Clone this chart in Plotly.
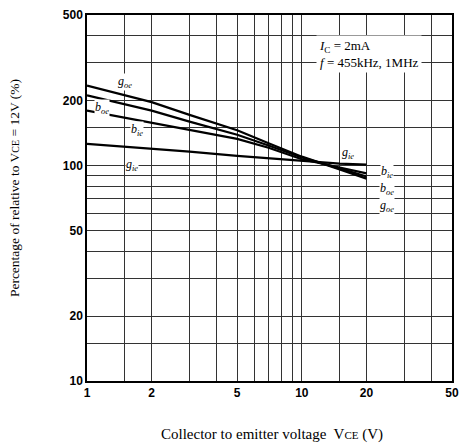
import math
import plotly.graph_objects as go

# Data
vce = [1, 2, 3, 5, 7, 10, 15, 20]
goe = [235, 197, 172, 146, 127, 110, 96, 87]
boe = [212, 180, 160, 139, 124, 109, 97, 89]
bie = [180, 158, 146, 133, 121, 107, 98, 92]
gie = [126, 120, 116, 111, 108, 105, 102, 101]

x_grid = [1, 1.5, 2, 3, 4, 5, 6, 7, 8, 9, 10, 15, 20, 30, 40, 50]
x_text = ['1', '', '2', '', '', '5', '', '', '', '', '10', '', '20', '', '', '50']
y_grid = [10, 15, 20, 30, 40, 50, 60, 70, 80, 90, 100, 150, 200, 300, 400, 500]
y_text = ['10', '', '20', '', '', '50', '', '', '', '', '100', '', '200', '', '', '500']

series = [("goe", goe), ("boe", boe), ("bie", bie), ("gie", gie)]

fig = go.Figure()
for name, vals in series:
    fig.add_trace(go.Scatter(x=vce, y=vals, mode="lines", name=name,
                             line=dict(color="black", width=2.2), showlegend=False))

serif = "Liberation Serif"
lab_font = dict(family=serif, size=12, color="black")

def lab(sym, sub):
    return f"<i>{sym}<sub>{sub}</sub></i>"

L = math.log10
# curve labels (left and right)
left_labels = [("g", "oe", 1.5, 245), ("b", "oe", 1.17, 186), ("b", "ie", 1.7, 146), ("g", "ie", 1.62, 101)]
right_labels = [("g", "ie", 16.4, 114), ("b", "ie", 25, 93), ("b", "oe", 25, 78), ("g", "oe", 25, 65)]
ann = []
for s, sub, xv, yv in left_labels + right_labels:
    ann.append(dict(x=L(xv), y=L(yv), xref="x", yref="y", text=lab(s, sub), showarrow=False,
                    font=lab_font, bgcolor="white", borderpad=0))

ann.append(dict(x=L(11.6), y=L(330), xref="x", yref="y", xanchor="left", yanchor="middle",
                text="<i>I</i><sub>C</sub> = 2mA<br><i>f</i> = 455kHz, 1MHz",
                showarrow=False, align="left", bgcolor="white", borderpad=2,
                font=dict(family=serif, size=13, color="black")))

ann.append(dict(x=-0.2, y=0.527, xref="paper", yref="paper", xanchor="center", yanchor="middle",
                text="Percentage of relative to V<span style='font-size:10px'>CE</span> = 12V (%)",
                textangle=-90, showarrow=False, font=dict(family=serif, size=13.5, color="black")))
ann.append(dict(x=0.508, y=-0.1475, xref="paper", yref="paper", xanchor="center", yanchor="middle",
                text="Collector to emitter voltage  V<span style='font-size:11px'>CE</span> (V)",
                showarrow=False, font=dict(family=serif, size=15, color="black")))

tick_font = dict(family="Liberation Sans", size=12, color="black", weight="bold")

fig.update_layout(
    width=464, height=448,
    margin=dict(l=87, r=5, t=15, b=67),
    paper_bgcolor="white", plot_bgcolor="white",
    annotations=ann,
    xaxis=dict(type="log", range=[0, 1.69897], tickmode="array", tickvals=x_grid, ticktext=x_text,
               showgrid=True, gridcolor="#333333", gridwidth=1, zeroline=False,
               showline=True, linecolor="black", linewidth=1.5, mirror=True,
               ticks="", tickfont=tick_font),
    yaxis=dict(type="log", range=[1, 2.69897], tickmode="array", tickvals=y_grid, ticktext=y_text,
               showgrid=True, gridcolor="#333333", gridwidth=1, zeroline=False,
               showline=True, linecolor="black", linewidth=1.5, mirror=True,
               ticks="", tickfont=tick_font),
)

fig.write_html("out.html")
